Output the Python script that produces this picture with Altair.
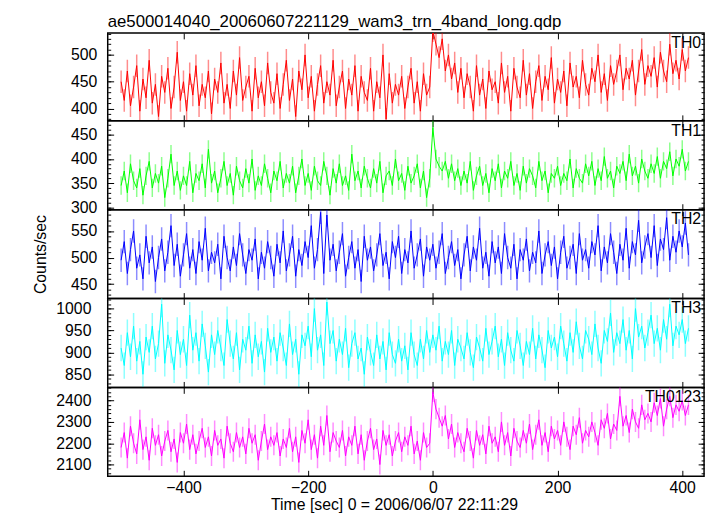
import altair as alt
import pandas as pd

FONT = "Liberation Sans"
TITLE = "ae500014040_20060607221129_wam3_trn_4band_long.qdp"
X_TITLE = "Time [sec] 0 = 2006/06/07 22:11:29"
Y_TITLE = "Counts/sec"

# time bins (sec), one value every 5 s from -500 to 410
TIME = list(range(-500, 411, 5))
X_DOMAIN = [-521.5, 435]
X_TICKS = [-400, -200, 0, 200, 400]

TH0 = [450, 415, 470, 405, 440, 480, 395, 455, 420, 490,
       410, 445, 385, 460, 430, 475, 400, 440, 505, 415,
       450, 395, 465, 425, 480, 405, 445, 420, 470, 390,
       455, 430, 485, 410, 445, 400, 470, 425, 495, 415,
       440, 460, 395, 475, 420, 450, 405, 485, 430, 410,
       465, 400, 445, 490, 415, 455, 385, 470, 435, 500,
       420, 460, 395, 445, 480, 410, 450, 425, 490, 405,
       440, 470, 400, 455, 425, 480, 395, 460, 430, 415,
       475, 395, 450, 420, 500, 380, 465, 410, 445, 425,
       460, 400, 440, 475, 410, 450, 395, 465, 425, 440,
       545, 520, 495, 530, 470, 500, 455, 485, 430, 475,
       420, 465, 440, 395, 480, 425, 455, 400, 470, 435,
       450, 410, 485, 430, 460, 395, 475, 440, 420, 490,
       425, 465, 400, 450, 480, 415, 460, 435, 495, 410,
       455, 430, 470, 405, 485, 440, 460, 420, 490, 445,
       425, 475, 450, 500, 430, 465, 415, 480, 445, 470,
       500, 435, 475, 455, 490, 425, 470, 510, 445, 480,
       460, 495, 440, 505, 470, 450, 520, 465, 490, 455,
       510, 470, 495]

TH1 = [345, 375, 330, 390, 355, 340, 380, 325, 365, 395,
       340, 370, 350, 385, 320, 360, 410, 345, 375, 335,
       365, 345, 395, 330, 370, 355, 390, 340, 420, 350,
       375, 330, 360, 395, 345, 370, 325, 385, 355, 340,
       380, 350, 400, 335, 365, 345, 390, 360, 330, 375,
       355, 395, 340, 370, 350, 385, 330, 365, 400, 345,
       370, 335, 385, 355, 345, 395, 365, 325, 380, 350,
       390, 345, 365, 335, 410, 355, 375, 340, 385, 360,
       340, 380, 350, 395, 330, 365, 375, 345, 400, 355,
       370, 335, 385, 350, 365, 390, 340, 375, 320, 360,
       465, 400, 385, 375, 395, 360, 390, 355, 380, 345,
       375, 350, 395, 335, 365, 385, 345, 370, 330, 380,
       355, 390, 340, 375, 360, 395, 345, 370, 335, 385,
       350, 380, 365, 340, 395, 355, 375, 330, 370, 360,
       385, 345, 370, 355, 400, 340, 380, 360, 350, 390,
       365, 395, 345, 380, 355, 405, 360, 375, 340, 385,
       370, 395, 355, 410, 365, 385, 350, 400, 375, 360,
       390, 370, 405, 360, 395, 380, 415, 365, 400, 385,
       420, 375, 395]

TH2 = [495, 530, 470, 515, 550, 480, 505, 460, 540, 490,
       520, 455, 500, 535, 475, 510, 560, 485, 525, 465,
       505, 545, 480, 515, 470, 530, 495, 555, 475, 510,
       490, 525, 460, 540, 500, 475, 520, 485, 545, 505,
       470, 515, 495, 535, 460, 510, 480, 530, 500, 465,
       525, 490, 550, 475, 505, 540, 465, 515, 485, 530,
       500, 560, 480, 515, 585, 470, 580, 495, 525, 475,
       510, 545, 465, 500, 530, 480, 515, 455, 540, 495,
       520, 475, 505, 545, 485, 510, 460, 530, 500, 540,
       470, 515, 490, 550, 480, 505, 535, 465, 520, 495,
       525, 480, 510, 545, 470, 500, 530, 485, 515, 460,
       505, 540, 475, 520, 495, 555, 480, 510, 465, 530,
       490, 520, 470, 545, 500, 480, 525, 460, 515, 495,
       535, 475, 510, 490, 550, 470, 505, 530, 485, 520,
       460, 510, 540, 480, 500, 525, 470, 545, 495, 515,
       480, 530, 505, 560, 475, 520, 490, 545, 510, 470,
       525, 495, 555, 480, 530, 505, 570, 490, 520, 545,
       500, 560, 485, 535, 515, 575, 495, 540, 510, 550,
       520, 565, 505]

TH3 = [910, 870, 945, 890, 960, 880, 925, 850, 935, 900,
       960, 885, 920, 1010, 875, 940, 905, 860, 950, 895,
       930, 870, 985, 905, 945, 880, 965, 915, 855, 940,
       895, 950, 910, 870, 975, 920, 885, 945, 860, 930,
       905, 960, 875, 940, 890, 925, 855, 955, 900, 935,
       880, 945, 910, 870, 965, 895, 930, 850, 940, 915,
       960, 890, 1000, 905, 940, 870, 1015, 920, 950, 880,
       930, 895, 955, 865, 920, 945, 885, 910, 850, 935,
       900, 870, 940, 885, 925, 860, 945, 895, 875, 930,
       880, 915, 860, 945, 895, 870, 930, 885, 950, 900,
       940, 905, 960, 880, 925, 895, 950, 870, 930, 910,
       885, 945, 900, 865, 935, 910, 880, 955, 895, 925,
       960, 890, 930, 870, 945, 905, 880, 950, 915, 870,
       925, 895, 955, 885, 940, 905, 865, 950, 910, 935,
       890, 960, 920, 880, 945, 900, 970, 915, 885, 950,
       930, 895, 965, 910, 875, 950, 925, 990, 900, 945,
       920, 975, 905, 950, 885, 1000, 935, 960, 910, 945,
       985, 920, 955, 905, 975, 930, 1010, 915, 960, 940,
       975, 920, 955]

TH0123 = [2180, 2250, 2130, 2280, 2200, 2150, 2310, 2170, 2230, 2120,
          2270, 2190, 2240, 2140, 2210, 2260, 2160, 2220, 2110, 2250,
          2200, 2290, 2170, 2240, 2150, 2210, 2270, 2180, 2230, 2140,
          2260, 2190, 2220, 2130, 2280, 2200, 2160, 2250, 2180, 2230,
          2150, 2270, 2200, 2240, 2120, 2210, 2290, 2170, 2230, 2190,
          2250, 2140, 2220, 2180, 2270, 2160, 2230, 2110, 2260, 2200,
          2310, 2170, 2240, 2130, 2280, 2190, 2330, 2160, 2250, 2210,
          2180, 2260, 2140, 2230, 2190, 2280, 2150, 2240, 2120, 2210,
          2270, 2170, 2220, 2100, 2260, 2190, 2240, 2140, 2210, 2250,
          2160, 2230, 2190, 2280, 2150, 2210, 2120, 2250, 2180, 2200,
          2440, 2360, 2320, 2280, 2330, 2220, 2290, 2180, 2250, 2200,
          2160, 2270, 2210, 2130, 2260, 2190, 2240, 2150, 2280, 2200,
          2230, 2160, 2300, 2190, 2250, 2140, 2270, 2210, 2180, 2260,
          2200, 2290, 2170, 2240, 2310, 2190, 2250, 2160, 2280, 2220,
          2260, 2190, 2300, 2230, 2170, 2280, 2240, 2320, 2200, 2260,
          2230, 2300, 2250, 2190, 2310, 2270, 2340, 2220, 2290, 2260,
          2420, 2280, 2330, 2250, 2360, 2300, 2270, 2380, 2310, 2340,
          2300, 2390, 2330, 2410, 2280, 2360, 2420, 2320, 2380, 2350,
          2400, 2330, 2380]

NAMES = ["TH0", "TH1", "TH2", "TH3", "TH0123"]
SERIES = [TH0, TH1, TH2, TH3, TH0123]
ERRORS = [21, 19, 22, 30, 47]
COLORS = ["#ff0000", "#00ff00", "#0000ff", "#00ffff", "#ff00ff"]
Y_DOMAINS = [[377, 541], [295, 479], [423, 590], [820, 1023], [2045, 2462]]
MAJOR = [[400, 450, 500], [300, 350, 400, 450], [450, 500, 550],
         [850, 900, 950, 1000], [2100, 2200, 2300, 2400]]
MINOR = [list(range(380, 541, 10)), list(range(300, 471, 10)),
         list(range(430, 591, 10)), list(range(820, 1021, 10)),
         list(range(2060, 2461, 20))]
HEIGHTS = [89, 90, 90, 90, 90]
LABEL_PAD = [11, 11, 11, 17, 17]
W = 604
FS = 16


def panel(i):
    vals = SERIES[i]
    err = ERRORS[i]
    df = pd.DataFrame({"t": TIME, "v": vals,
                       "lo": [v - err for v in vals],
                       "hi": [v + err for v in vals]})
    xs = alt.Scale(domain=X_DOMAIN, nice=False, zero=False)
    ys = alt.Scale(domain=Y_DOMAINS[i], nice=False, zero=False)
    last = i == len(SERIES) - 1
    common = dict(grid=False, domain=False, tickColor="black", tickWidth=1,
                  labelFont=FONT, labelFontSize=FS, labelColor="black", format="d",
                  titleFont=FONT, titleFontSize=FS, titleFontWeight="normal",
                  titleColor="black")

    bx_kwargs = dict(orient="bottom", values=X_TICKS, offset=-6, tickSize=6,
                     labels=last, labelPadding=3, labelFlush=False, **common)
    if last:
        bx_kwargs.update(title=X_TITLE, titlePadding=2, titleX=290)
    else:
        bx_kwargs.update(title=None)
    x_bottom = alt.X("t:Q", scale=xs, axis=alt.Axis(**bx_kwargs))
    x_top = alt.X("t:Q", scale=xs, axis=alt.Axis(orient="top", values=X_TICKS, offset=-6,
                                                 tickSize=6, labels=False, title=None, **common))
    x_none = alt.X("t:Q", scale=xs, axis=None)

    ly_kwargs = dict(orient="left", values=MAJOR[i], offset=-6, tickSize=6,
                     labelPadding=LABEL_PAD[i], labelFlush=False, **common)
    if i == 2:
        ly_kwargs.update(title=Y_TITLE, titlePadding=22)
    else:
        ly_kwargs.update(title=None)

    base = alt.Chart(df)
    err_layer = base.mark_rule(color=COLORS[i], opacity=0.45, strokeWidth=1.5, clip=True).encode(
        x=x_top,
        y=alt.Y("lo:Q", scale=ys, axis=alt.Axis(orient="right", values=MAJOR[i], offset=-6,
                                                tickSize=6, labels=False, title=None, **common)),
        y2="hi:Q",
    )
    line_layer = base.mark_line(color=COLORS[i], strokeWidth=1, clip=True).encode(
        x=x_bottom,
        y=alt.Y("v:Q", scale=ys, axis=alt.Axis(**ly_kwargs)),
    )
    minor_left = base.mark_line(strokeOpacity=0, clip=True).encode(
        x=x_none,
        y=alt.Y("v:Q", scale=ys, axis=alt.Axis(orient="left", values=MINOR[i], offset=-3,
                                               tickSize=3, labels=False, title=None, **common)),
    )
    minor_right = base.mark_line(strokeOpacity=0, clip=True).encode(
        x=x_none,
        y=alt.Y("v:Q", scale=ys, axis=alt.Axis(orient="right", values=MINOR[i], offset=-3,
                                               tickSize=3, labels=False, title=None, **common)),
    )
    label = alt.Chart(pd.DataFrame({"name": [NAMES[i]]})).mark_text(
        align="right", baseline="top", font=FONT, fontSize=FS, color="black"
    ).encode(text="name:N", x=alt.value(W - 3), y=alt.value(2))

    layer = alt.layer(err_layer, line_layer, minor_left, minor_right, label).resolve_axis(
        x="independent", y="independent"
    )
    props = dict(width=W, height=HEIGHTS[i])
    if i == 0:
        props["title"] = alt.TitleParams(text=TITLE, anchor="start", frame="group", font=FONT,
                                         fontSize=17, fontWeight="normal", color="black", offset=2)
    return layer.properties(**props)


chart = alt.vconcat(*[panel(i) for i in range(len(SERIES))], spacing=0, bounds="flush").properties(
    padding={"left": 24, "top": 0, "right": 3, "bottom": 0},
    background="white",
).configure_view(stroke="black", strokeWidth=1.5)

chart.save("out.html", embed_options={"renderer": "svg", "actions": False})
